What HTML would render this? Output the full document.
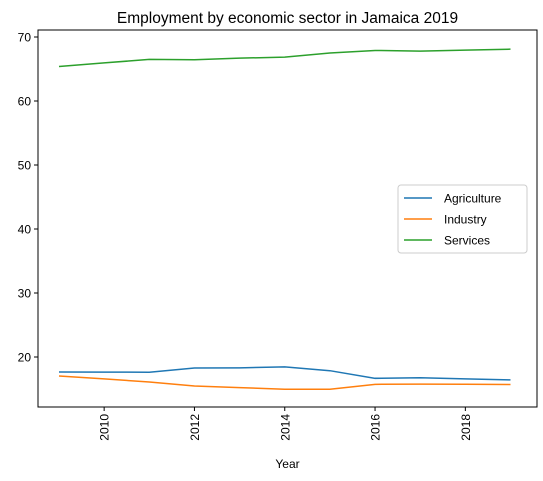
<!DOCTYPE html>
<html><head><meta charset="utf-8"><style>body{margin:0;background:#fff}svg{display:block;font-family:"Liberation Sans","DejaVu Sans",sans-serif}</style></head>
<body>
<svg id="c" width="543" height="481"></svg>
<script>
const years=[2009,2010,2011,2012,2013,2014,2015,2016,2017,2018,2019];
const agriculture=[17.66,17.64,17.62,18.28,18.3,18.46,17.86,16.67,16.75,16.58,16.42];
const industry=[17.03,16.58,16.1,15.47,15.22,14.97,14.97,15.73,15.76,15.74,15.7];
const services=[65.4,65.95,66.5,66.45,66.7,66.85,67.5,67.9,67.8,67.95,68.1];
const yTicks=[20,30,40,50,60,70];
const xTicks=[2010,2012,2014,2016,2018];
const seriesNames=["Agriculture","Industry","Services"];
const colors=["#1f77b4","#ff7f0e","#2ca02c"];
const L=38,R=537,T=30,B=407;
const x=v=>59+(v-2009)*45.15;
const y=v=>357-(v-20)*6.4;
const s=document.getElementById('c');const NS='http://www.w3.org/2000/svg';
function mk(t,a,p){const e=document.createElementNS(NS,t);for(const k in a)e.setAttribute(k,a[k]);(p||s).appendChild(e);return e;}
let e;
e=mk('text',{x:(L+R)/2,y:23,'text-anchor':'middle','font-size':15.5});e.textContent='Employment by economic sector in Jamaica 2019';


yTicks.forEach(v=>{mk('line',{x1:L-4,x2:L,y1:y(v),y2:y(v),stroke:'#000'});
e=mk('text',{x:L-7,y:y(v)+4.5,'text-anchor':'end','font-size':12});e.textContent=v;

});
xTicks.forEach(v=>{mk('line',{x1:x(v),x2:x(v),y1:B,y2:B+4,stroke:'#000'});
e=mk('text',{transform:`translate(${x(v)+4.5},${B+7}) rotate(-90)`,'text-anchor':'end','font-size':12});e.textContent=v;

});
e=mk('text',{x:(L+R)/2,y:468,'text-anchor':'middle','font-size':12});e.textContent='Year';


[agriculture,industry,services].forEach((d,i)=>{
e=mk('polyline',{points:d.map((v,j)=>x(years[j])+','+y(v)).join(' '),fill:'none',stroke:colors[i],'stroke-width':1.5});

});
e=mk('rect',{x:L,y:T,width:R-L,height:B-T,fill:'none',stroke:'#000','stroke-width':1});


const g=mk('g',{});


mk('rect',{x:398,y:185,width:129,height:68,rx:3,fill:'#fff',stroke:'#ccc'},g);
seriesNames.forEach((n,i)=>{const yy=198+i*21;
mk('line',{x1:404,x2:432,y1:yy,y2:yy,stroke:colors[i],'stroke-width':1.5},g);
const t=mk('text',{x:444,y:yy+4.5,'font-size':12},g);t.textContent=n;

});
</script>
</body></html>
